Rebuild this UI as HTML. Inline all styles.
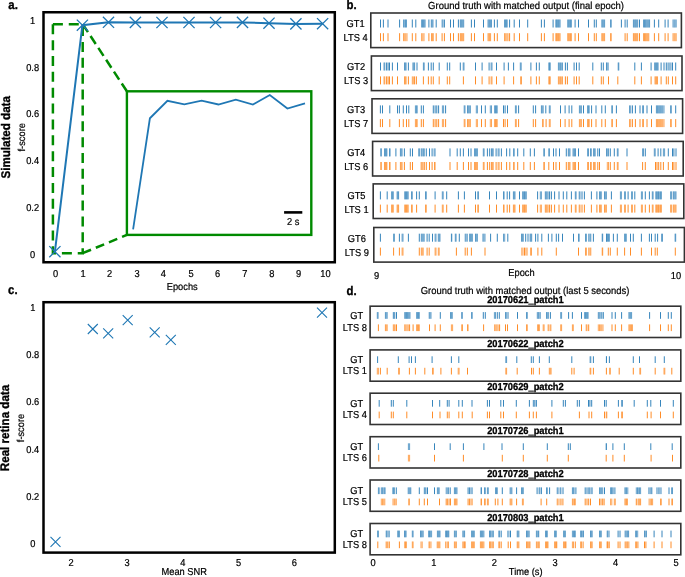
<!DOCTYPE html>
<html><head><meta charset="utf-8"><style>
html,body{margin:0;padding:0;background:#fff;width:685px;height:577px;overflow:hidden}
svg{display:block;filter:blur(0.3px)}
text{font-family:"Liberation Sans",sans-serif;text-rendering:geometricPrecision;stroke:#000;stroke-width:0.2px}
text[font-weight=bold]{stroke-width:0.3px}
</style></head><body>
<svg width="685" height="577" viewBox="0 0 685 577" font-family="Liberation Sans, sans-serif">
<rect width="685" height="577" fill="#fff"/>
<text transform="translate(8.3,8.7) scale(1,1.1)" font-size="11.4" text-anchor="start" font-weight="bold" fill="#000" >a.</text>
<text transform="translate(346.5,8.8) scale(1,1.1)" font-size="11.4" text-anchor="start" font-weight="bold" fill="#000" >b.</text>
<text transform="translate(8.1,294.3) scale(1,1.1)" font-size="11.4" text-anchor="start" font-weight="bold" fill="#000" >c.</text>
<text transform="translate(346.5,294.6) scale(1,1.1)" font-size="11.4" text-anchor="start" font-weight="bold" fill="#000" >d.</text>
<rect x="43.5" y="12.25" width="291.3" height="250" fill="none" stroke="#000" stroke-width="2.5"/>
<text transform="translate(32.6,23.8) scale(1,1.08)" font-size="9.3" text-anchor="middle" fill="#000" >1</text>
<text transform="translate(32.6,70.6) scale(1,1.08)" font-size="9.3" text-anchor="middle" fill="#000" >0.8</text>
<text transform="translate(32.6,117.4) scale(1,1.08)" font-size="9.3" text-anchor="middle" fill="#000" >0.6</text>
<text transform="translate(32.6,164.2) scale(1,1.08)" font-size="9.3" text-anchor="middle" fill="#000" >0.4</text>
<text transform="translate(32.6,211.0) scale(1,1.08)" font-size="9.3" text-anchor="middle" fill="#000" >0.2</text>
<text transform="translate(32.6,257.8) scale(1,1.08)" font-size="9.3" text-anchor="middle" fill="#000" >0</text>
<text transform="translate(55.6,276.6) scale(1,1.08)" font-size="9.3" text-anchor="middle" fill="#000" >0</text>
<text transform="translate(83,276.6) scale(1,1.08)" font-size="9.3" text-anchor="middle" fill="#000" >1</text>
<text transform="translate(109.6,276.6) scale(1,1.08)" font-size="9.3" text-anchor="middle" fill="#000" >2</text>
<text transform="translate(137,276.6) scale(1,1.08)" font-size="9.3" text-anchor="middle" fill="#000" >3</text>
<text transform="translate(163.4,276.6) scale(1,1.08)" font-size="9.3" text-anchor="middle" fill="#000" >4</text>
<text transform="translate(191.1,276.6) scale(1,1.08)" font-size="9.3" text-anchor="middle" fill="#000" >5</text>
<text transform="translate(217.6,276.6) scale(1,1.08)" font-size="9.3" text-anchor="middle" fill="#000" >6</text>
<text transform="translate(244.8,276.6) scale(1,1.08)" font-size="9.3" text-anchor="middle" fill="#000" >7</text>
<text transform="translate(271.9,276.6) scale(1,1.08)" font-size="9.3" text-anchor="middle" fill="#000" >8</text>
<text transform="translate(298.5,276.6) scale(1,1.08)" font-size="9.3" text-anchor="middle" fill="#000" >9</text>
<text transform="translate(325.5,276.6) scale(1,1.08)" font-size="9.3" text-anchor="middle" fill="#000" >10</text>
<text transform="translate(182.2,290.3) scale(1,1.08)" font-size="9.3" text-anchor="middle" fill="#000" >Epochs</text>
<text transform="translate(9.7,137.3) rotate(-90) scale(1,1.08)" font-size="11.6" font-weight="bold" text-anchor="middle" fill="#000">Simulated data</text>
<text transform="translate(25.4,137.3) rotate(-90) scale(1,1.08)" font-size="9.3" text-anchor="middle" fill="#000">f-score</text>
<path d="M52.9 24.2 L82.7 24.2 L82.7 253.2 L52.9 253.2 Z" fill="none" stroke="#008a00" stroke-width="2.5" stroke-dasharray="10 5.86"/>
<path d="M82.7 24.2 L126.9 91.3" fill="none" stroke="#008a00" stroke-width="2.5" stroke-dasharray="9.5 4.7"/>
<path d="M82.7 253.2 L126.9 234.9" fill="none" stroke="#008a00" stroke-width="2.5" stroke-dasharray="9 5.2"/>
<rect x="126.9" y="91.3" width="184.4" height="143.6" fill="none" stroke="#008a00" stroke-width="2.4"/>
<polyline points="133.1,229.3 149.9,118.3 167.4,100.8 184.3,104.3 201.6,100.7 218.4,104.5 235.8,99.6 252.9,104.6 269.8,95.0 287.4,108.5 305.0,103.4" fill="none" stroke="#1f77b4" stroke-width="1.8" stroke-linejoin="miter"/>
<line x1="284.1" y1="212.4" x2="302.3" y2="212.4" stroke="#000" stroke-width="2.6"/>
<text transform="translate(293.2,225.1) scale(1,1.08)" font-size="9.3" text-anchor="middle" fill="#000" >2 s</text>
<polyline points="54.9,251.7 82.4,25.2 108.5,22.3 135.4,22.4 162.0,22.5 189.0,22.5 215.6,22.5 242.5,22.4 269.0,23.2 295.9,23.9 322.6,23.7" fill="none" stroke="#1f77b4" stroke-width="2"/>
<path d="M49.3 246.1 L60.5 257.3 M49.3 257.3 L60.5 246.1" stroke="#1f77b4" stroke-width="1.3" fill="none"/>
<path d="M76.80000000000001 19.6 L88.0 30.799999999999997 M76.80000000000001 30.799999999999997 L88.0 19.6" stroke="#1f77b4" stroke-width="1.3" fill="none"/>
<path d="M102.9 16.700000000000003 L114.1 27.9 M102.9 27.9 L114.1 16.700000000000003" stroke="#1f77b4" stroke-width="1.3" fill="none"/>
<path d="M129.8 16.799999999999997 L141.0 28.0 M129.8 28.0 L141.0 16.799999999999997" stroke="#1f77b4" stroke-width="1.3" fill="none"/>
<path d="M156.4 16.9 L167.6 28.1 M156.4 28.1 L167.6 16.9" stroke="#1f77b4" stroke-width="1.3" fill="none"/>
<path d="M183.4 16.9 L194.6 28.1 M183.4 28.1 L194.6 16.9" stroke="#1f77b4" stroke-width="1.3" fill="none"/>
<path d="M210.0 16.9 L221.2 28.1 M210.0 28.1 L221.2 16.9" stroke="#1f77b4" stroke-width="1.3" fill="none"/>
<path d="M236.9 16.799999999999997 L248.1 28.0 M236.9 28.0 L248.1 16.799999999999997" stroke="#1f77b4" stroke-width="1.3" fill="none"/>
<path d="M263.4 17.6 L274.6 28.799999999999997 M263.4 28.799999999999997 L274.6 17.6" stroke="#1f77b4" stroke-width="1.3" fill="none"/>
<path d="M290.29999999999995 18.299999999999997 L301.5 29.5 M290.29999999999995 29.5 L301.5 18.299999999999997" stroke="#1f77b4" stroke-width="1.3" fill="none"/>
<path d="M317.0 18.1 L328.20000000000005 29.299999999999997 M317.0 29.299999999999997 L328.20000000000005 18.1" stroke="#1f77b4" stroke-width="1.3" fill="none"/>
<rect x="43.5" y="302.2" width="291.3" height="250.4" fill="none" stroke="#000" stroke-width="2.5"/>
<text transform="translate(32.8,310.5) scale(1,1.08)" font-size="9.3" text-anchor="middle" fill="#000" >1</text>
<text transform="translate(32.8,357.88) scale(1,1.08)" font-size="9.3" text-anchor="middle" fill="#000" >0.8</text>
<text transform="translate(32.8,405.26) scale(1,1.08)" font-size="9.3" text-anchor="middle" fill="#000" >0.6</text>
<text transform="translate(32.8,452.64) scale(1,1.08)" font-size="9.3" text-anchor="middle" fill="#000" >0.4</text>
<text transform="translate(32.8,500.02) scale(1,1.08)" font-size="9.3" text-anchor="middle" fill="#000" >0.2</text>
<text transform="translate(32.8,547.4) scale(1,1.08)" font-size="9.3" text-anchor="middle" fill="#000" >0</text>
<text transform="translate(71.2,566.2) scale(1,1.08)" font-size="9.3" text-anchor="middle" fill="#000" >2</text>
<text transform="translate(127.0,566.2) scale(1,1.08)" font-size="9.3" text-anchor="middle" fill="#000" >3</text>
<text transform="translate(182.8,566.2) scale(1,1.08)" font-size="9.3" text-anchor="middle" fill="#000" >4</text>
<text transform="translate(238.6,566.2) scale(1,1.08)" font-size="9.3" text-anchor="middle" fill="#000" >5</text>
<text transform="translate(294.4,566.2) scale(1,1.08)" font-size="9.3" text-anchor="middle" fill="#000" >6</text>
<text transform="translate(184.2,574.6) scale(1,1.08)" font-size="9.3" text-anchor="middle" fill="#000" >Mean SNR</text>
<text transform="translate(8.7,428) rotate(-90) scale(1,1.08)" font-size="11.6" font-weight="bold" text-anchor="middle" fill="#000">Real retina data</text>
<text transform="translate(24.3,428) rotate(-90) scale(1,1.08)" font-size="9.3" text-anchor="middle" fill="#000">f-score</text>
<path d="M50.5 536.9 L60.5 546.9 M50.5 546.9 L60.5 536.9" stroke="#1f77b4" stroke-width="1.1" fill="none"/>
<path d="M87.8 324.0 L97.8 334.0 M87.8 334.0 L97.8 324.0" stroke="#1f77b4" stroke-width="1.1" fill="none"/>
<path d="M103.2 328.4 L113.2 338.4 M103.2 338.4 L113.2 328.4" stroke="#1f77b4" stroke-width="1.1" fill="none"/>
<path d="M122.7 315.2 L132.7 325.2 M122.7 325.2 L132.7 315.2" stroke="#1f77b4" stroke-width="1.1" fill="none"/>
<path d="M149.7 327.3 L159.7 337.3 M149.7 337.3 L159.7 327.3" stroke="#1f77b4" stroke-width="1.1" fill="none"/>
<path d="M165.8 334.9 L175.8 344.9 M165.8 344.9 L175.8 334.9" stroke="#1f77b4" stroke-width="1.1" fill="none"/>
<path d="M317.0 307.7 L327.0 317.7 M317.0 317.7 L327.0 307.7" stroke="#1f77b4" stroke-width="1.1" fill="none"/>
<text transform="translate(526.05,9.4) scale(1,1.08)" font-size="9.5" text-anchor="middle" fill="#000" >Ground truth with matched output (final epoch)</text>
<rect x="370.80" y="13" width="310.60" height="34.6" fill="none" stroke="#333" stroke-width="1.6"/>
<text transform="translate(355.6,27.4) scale(1,1.08)" font-size="9.3" text-anchor="middle" fill="#000" >GT1</text>
<text transform="translate(355.6,41.1) scale(1,1.08)" font-size="9.3" text-anchor="middle" fill="#000" >LTS 4</text>
<rect x="371.40" y="56" width="310.60" height="34.6" fill="none" stroke="#333" stroke-width="1.6"/>
<text transform="translate(356.1,70.4) scale(1,1.08)" font-size="9.3" text-anchor="middle" fill="#000" >GT2</text>
<text transform="translate(356.1,84.3) scale(1,1.08)" font-size="9.3" text-anchor="middle" fill="#000" >LTS 3</text>
<rect x="372.00" y="98.8" width="310.60" height="34.6" fill="none" stroke="#333" stroke-width="1.6"/>
<text transform="translate(356.1,113.3) scale(1,1.08)" font-size="9.3" text-anchor="middle" fill="#000" >GT3</text>
<text transform="translate(356.1,127.0) scale(1,1.08)" font-size="9.3" text-anchor="middle" fill="#000" >LTS 7</text>
<rect x="372.60" y="141.4" width="310.60" height="34.6" fill="none" stroke="#333" stroke-width="1.6"/>
<text transform="translate(356.2,156.3) scale(1,1.08)" font-size="9.3" text-anchor="middle" fill="#000" >GT4</text>
<text transform="translate(356.2,169.9) scale(1,1.08)" font-size="9.3" text-anchor="middle" fill="#000" >LTS 6</text>
<rect x="373.20" y="183.9" width="310.60" height="34.6" fill="none" stroke="#333" stroke-width="1.6"/>
<text transform="translate(356.5,199.3) scale(1,1.08)" font-size="9.3" text-anchor="middle" fill="#000" >GT5</text>
<text transform="translate(356.5,212.5) scale(1,1.08)" font-size="9.3" text-anchor="middle" fill="#000" >LTS 1</text>
<rect x="373.80" y="227.5" width="310.60" height="34.6" fill="none" stroke="#333" stroke-width="1.6"/>
<text transform="translate(356.8,241.6) scale(1,1.08)" font-size="9.3" text-anchor="middle" fill="#000" >GT6</text>
<text transform="translate(356.8,255.5) scale(1,1.08)" font-size="9.3" text-anchor="middle" fill="#000" >LTS 9</text>
<text transform="translate(376.5,278.6) scale(1,1.08)" font-size="9.3" text-anchor="middle" fill="#000" >9</text>
<text transform="translate(675.9,278.6) scale(1,1.08)" font-size="9.3" text-anchor="middle" fill="#000" >10</text>
<text transform="translate(521.5,276.2) scale(1,1.08)" font-size="9.3" text-anchor="middle" fill="#000" >Epoch</text>
<text transform="translate(525.1,293.8) scale(1,1.08)" font-size="9.42" text-anchor="middle" fill="#000" >Ground truth with matched output (last 5 seconds)</text>
<rect x="370.1" y="306.2" width="310.70" height="31.3" fill="none" stroke="#333" stroke-width="1.6"/>
<text transform="translate(525.4,303.3) scale(1,1.08)" font-size="9.3" text-anchor="middle" font-weight="bold" fill="#000" >20170621_patch1</text>
<text transform="translate(356.6,318.6) scale(1,1.08)" font-size="9.3" text-anchor="middle" fill="#000" >GT</text>
<text transform="translate(354.8,330.8) scale(1,1.08)" font-size="9.3" text-anchor="middle" fill="#000" >LTS 8</text>
<rect x="370.1" y="349.9" width="310.70" height="31.3" fill="none" stroke="#333" stroke-width="1.6"/>
<text transform="translate(525.4,347.0) scale(1,1.08)" font-size="9.3" text-anchor="middle" font-weight="bold" fill="#000" >20170622_patch2</text>
<text transform="translate(356.6,362.8) scale(1,1.08)" font-size="9.3" text-anchor="middle" fill="#000" >GT</text>
<text transform="translate(354.8,374.2) scale(1,1.08)" font-size="9.3" text-anchor="middle" fill="#000" >LTS 1</text>
<rect x="370.1" y="393.2" width="310.70" height="31.3" fill="none" stroke="#333" stroke-width="1.6"/>
<text transform="translate(525.4,390.3) scale(1,1.08)" font-size="9.3" text-anchor="middle" font-weight="bold" fill="#000" >20170629_patch2</text>
<text transform="translate(356.6,406.5) scale(1,1.08)" font-size="9.3" text-anchor="middle" fill="#000" >GT</text>
<text transform="translate(354.8,418.0) scale(1,1.08)" font-size="9.3" text-anchor="middle" fill="#000" >LTS 4</text>
<rect x="370.1" y="436.7" width="310.70" height="31.3" fill="none" stroke="#333" stroke-width="1.6"/>
<text transform="translate(525.4,433.8) scale(1,1.08)" font-size="9.3" text-anchor="middle" font-weight="bold" fill="#000" >20170726_patch1</text>
<text transform="translate(356.6,449.8) scale(1,1.08)" font-size="9.3" text-anchor="middle" fill="#000" >GT</text>
<text transform="translate(354.8,461.2) scale(1,1.08)" font-size="9.3" text-anchor="middle" fill="#000" >LTS 6</text>
<rect x="370.1" y="480.0" width="310.70" height="31.3" fill="none" stroke="#333" stroke-width="1.6"/>
<text transform="translate(525.4,477.1) scale(1,1.08)" font-size="9.3" text-anchor="middle" font-weight="bold" fill="#000" >20170728_patch2</text>
<text transform="translate(356.6,493.9) scale(1,1.08)" font-size="9.3" text-anchor="middle" fill="#000" >GT</text>
<text transform="translate(354.8,505.0) scale(1,1.08)" font-size="9.3" text-anchor="middle" fill="#000" >LTS 5</text>
<rect x="370.1" y="523.5" width="310.70" height="31.3" fill="none" stroke="#333" stroke-width="1.6"/>
<text transform="translate(525.4,520.6) scale(1,1.08)" font-size="9.3" text-anchor="middle" font-weight="bold" fill="#000" >20170803_patch1</text>
<text transform="translate(356.6,537.1) scale(1,1.08)" font-size="9.3" text-anchor="middle" fill="#000" >GT</text>
<text transform="translate(354.8,547.9) scale(1,1.08)" font-size="9.3" text-anchor="middle" fill="#000" >LTS 8</text>
<text transform="translate(373.1,566.0) scale(1,1.08)" font-size="9.3" text-anchor="middle" fill="#000" >0</text>
<text transform="translate(433.72,566.0) scale(1,1.08)" font-size="9.3" text-anchor="middle" fill="#000" >1</text>
<text transform="translate(494.34,566.0) scale(1,1.08)" font-size="9.3" text-anchor="middle" fill="#000" >2</text>
<text transform="translate(554.96,566.0) scale(1,1.08)" font-size="9.3" text-anchor="middle" fill="#000" >3</text>
<text transform="translate(615.58,566.0) scale(1,1.08)" font-size="9.3" text-anchor="middle" fill="#000" >4</text>
<text transform="translate(676.2,566.0) scale(1,1.08)" font-size="9.3" text-anchor="middle" fill="#000" >5</text>
<text transform="translate(525.7,574.6) scale(1,1.08)" font-size="9.3" text-anchor="middle" fill="#000" >Time (s)</text>
<path d="M380.5 19.5V27.5M383.4 19.5V27.5M388 19.5V27.5M399.6 19.5V27.5M412.3 19.5V27.5M415.8 19.5V27.5M428.9 19.5V27.5M436.2 19.5V27.5M444.4 19.5V27.5M450.5 19.5V27.5M453.5 19.5V27.5M458.4 19.5V27.5M471.4 19.5V27.5M474.5 19.5V27.5M483.5 19.5V27.5M494.4 19.5V27.5M497.3 19.5V27.5M509.6 19.5V27.5M514.2 19.5V27.5M519.5 19.5V27.5M527.7 19.5V27.5M541.4 19.5V27.5M544.4 19.5V27.5M553.1 19.5V27.5M575.1 19.5V27.5M578.5 19.5V27.5M588.5 19.5V27.5M594.3 19.5V27.5M596.3 19.5V27.5M621.4 19.5V27.5M625.1 19.5V27.5M627.2 19.5V27.5M639.5 19.5V27.5M654.4 19.5V27.5M658.7 19.5V27.5M665.1 19.5V27.5M668.1 19.5V27.5M380.5 62.5V70.5M386.6 62.5V70.5M388.1 62.5V70.5M389.5 62.5V70.5M392.4 62.5V70.5M397.5 62.5V70.5M408.4 62.5V70.5M417 62.5V70.5M428.4 62.5V70.5M431.2 62.5V70.5M433.3 62.5V70.5M439.2 62.5V70.5M447.3 62.5V70.5M449.7 62.5V70.5M460.3 62.5V70.5M475.5 62.5V70.5M482.1 62.5V70.5M489.1 62.5V70.5M496.5 62.5V70.5M504.1 62.5V70.5M508.4 62.5V70.5M513.6 62.5V70.5M530.9 62.5V70.5M536.4 62.5V70.5M539.3 62.5V70.5M565.4 62.5V70.5M567.4 62.5V70.5M574.1 62.5V70.5M576.5 62.5V70.5M579.2 62.5V70.5M592.8 62.5V70.5M601.3 62.5V70.5M603.3 62.5V70.5M634.8 62.5V70.5M641.4 62.5V70.5M651.1 62.5V70.5M661.1 62.5V70.5M664 62.5V70.5M666.3 62.5V70.5M668.1 62.5V70.5M672.5 62.5V70.5M675.7 62.5V70.5M380.4 105.4V113.4M382.5 105.4V113.4M389.8 105.4V113.4M397.5 105.4V113.4M399.4 105.4V113.4M403.3 105.4V113.4M406.5 105.4V113.4M408.8 105.4V113.4M421.3 105.4V113.4M423.4 105.4V113.4M433.3 105.4V113.4M435.1 105.4V113.4M436.8 105.4V113.4M438.6 105.4V113.4M445.6 105.4V113.4M481.5 105.4V113.4M485.3 105.4V113.4M503.5 105.4V113.4M505.1 105.4V113.4M507.5 105.4V113.4M518.6 105.4V113.4M533.3 105.4V113.4M535.6 105.4V113.4M545.8 105.4V113.4M560.5 105.4V113.4M565.1 105.4V113.4M569.1 105.4V113.4M571.8 105.4V113.4M583.5 105.4V113.4M591.6 105.4V113.4M596 105.4V113.4M601.8 105.4V113.4M605.3 105.4V113.4M616.4 105.4V113.4M632.4 105.4V113.4M635.4 105.4V113.4M640 105.4V113.4M647 105.4V113.4M651.5 105.4V113.4M675.7 105.4V113.4M395.9 148.4V156.4M404.4 148.4V156.4M410.3 148.4V156.4M412.5 148.4V156.4M426.3 148.4V156.4M429.5 148.4V156.4M432.1 148.4V156.4M450 148.4V156.4M457.2 148.4V156.4M460.3 148.4V156.4M463.4 148.4V156.4M468.5 148.4V156.4M471 148.4V156.4M487.4 148.4V156.4M489.7 148.4V156.4M496.1 148.4V156.4M501.4 148.4V156.4M506.6 148.4V156.4M509.8 148.4V156.4M517.7 148.4V156.4M523.8 148.4V156.4M530.3 148.4V156.4M534.4 148.4V156.4M553.5 148.4V156.4M556 148.4V156.4M559.5 148.4V156.4M566.3 148.4V156.4M578.5 148.4V156.4M597.8 148.4V156.4M599.5 148.4V156.4M610.3 148.4V156.4M614.3 148.4V156.4M627 148.4V156.4M645.3 148.4V156.4M658.1 148.4V156.4M660.8 148.4V156.4M668.3 148.4V156.4M672.5 148.4V156.4M673.9 148.4V156.4M676 148.4V156.4M380.4 191.4V199.4M387.2 191.4V199.4M416.6 191.4V199.4M419.3 191.4V199.4M435.1 191.4V199.4M446.7 191.4V199.4M458.4 191.4V199.4M464.4 191.4V199.4M475.5 191.4V199.4M489.5 191.4V199.4M496.5 191.4V199.4M507.2 191.4V199.4M509.6 191.4V199.4M519.5 191.4V199.4M537.6 191.4V199.4M549.6 191.4V199.4M551.4 191.4V199.4M554.6 191.4V199.4M559 191.4V199.4M563.3 191.4V199.4M566.8 191.4V199.4M571.4 191.4V199.4M582 191.4V199.4M584.4 191.4V199.4M591.4 191.4V199.4M596.9 191.4V199.4M611.4 191.4V199.4M628.1 191.4V199.4M634.8 191.4V199.4M645.3 191.4V199.4M649.4 191.4V199.4M380.4 233.7V241.7M399.4 233.7V241.7M408.4 233.7V241.7M419.3 233.7V241.7M427.1 233.7V241.7M429.2 233.7V241.7M432.5 233.7V241.7M459.3 233.7V241.7M490.6 233.7V241.7M497.3 233.7V241.7M507.8 233.7V241.7M525.7 233.7V241.7M528 233.7V241.7M535.6 233.7V241.7M537.9 233.7V241.7M541.8 233.7V241.7M548.4 233.7V241.7M551.9 233.7V241.7M556.3 233.7V241.7M558.6 233.7V241.7M562.5 233.7V241.7M573.5 233.7V241.7M593.4 233.7V241.7M613.4 233.7V241.7M617.3 233.7V241.7M630.5 233.7V241.7M633.3 233.7V241.7M641.4 233.7V241.7M649.4 233.7V241.7M651.5 233.7V241.7M655.2 233.7V241.7M657.6 233.7V241.7M396.5 312.1V318.8M440.3 312.1V318.8M483.3 312.1V318.8M485.3 312.1V318.8M497.3 312.1V318.8M499.3 312.1V318.8M508 312.1V318.8M517.5 312.1V318.8M550.4 312.1V318.8M568.6 312.1V318.8M572.4 312.1V318.8M581.5 312.1V318.8M601.8 312.1V318.8M603.3 312.1V318.8M612 312.1V318.8M615.3 312.1V318.8M621.6 312.1V318.8M649.6 312.1V318.8M660.5 312.1V318.8M668.3 312.1V318.8M671.3 312.1V318.8M377.6 356.3V363.0M398.3 356.3V363.0M409.1 356.3V363.0M411.5 356.3V363.0M415.4 356.3V363.0M432.1 356.3V363.0M451.4 356.3V363.0M458.8 356.3V363.0M516.8 356.3V363.0M531.3 356.3V363.0M533.3 356.3V363.0M539.4 356.3V363.0M549.3 356.3V363.0M571.8 356.3V363.0M593.4 356.3V363.0M609.4 356.3V363.0M633.3 356.3V363.0M639.5 356.3V363.0M655.2 356.3V363.0M664.3 356.3V363.0M379.2 400.0V406.7M391.3 400.0V406.7M393.3 400.0V406.7M406.8 400.0V406.7M432.5 400.0V406.7M439.7 400.0V406.7M447.3 400.0V406.7M449.1 400.0V406.7M458.8 400.0V406.7M462.3 400.0V406.7M472 400.0V406.7M487.4 400.0V406.7M489.5 400.0V406.7M500.8 400.0V406.7M503.5 400.0V406.7M516.3 400.0V406.7M529.4 400.0V406.7M536.4 400.0V406.7M551.9 400.0V406.7M563.3 400.0V406.7M565.4 400.0V406.7M577.3 400.0V406.7M579.4 400.0V406.7M588.5 400.0V406.7M589.9 400.0V406.7M591.7 400.0V406.7M604.5 400.0V406.7M606.2 400.0V406.7M618.4 400.0V406.7M634.2 400.0V406.7M647.3 400.0V406.7M650.8 400.0V406.7M660.5 400.0V406.7M673.3 400.0V406.7M378.4 443.3V450.0M434.5 443.3V450.0M450.2 443.3V450.0M463.4 443.3V450.0M483.9 443.3V450.0M502 443.3V450.0M523.3 443.3V450.0M547.3 443.3V450.0M568.3 443.3V450.0M570.3 443.3V450.0M612.9 443.3V450.0M624.3 443.3V450.0M650.8 443.3V450.0M672.2 443.3V450.0M396.3 487.4V494.1M419.3 487.4V494.1M427.5 487.4V494.1M434.5 487.4V494.1M450.2 487.4V494.1M468.1 487.4V494.1M469.6 487.4V494.1M502.3 487.4V494.1M516.6 487.4V494.1M537.1 487.4V494.1M541.4 487.4V494.1M549.6 487.4V494.1M563 487.4V494.1M575.9 487.4V494.1M585.2 487.4V494.1M587 487.4V494.1M604.5 487.4V494.1M614.9 487.4V494.1M657 487.4V494.1M669 487.4V494.1M501.2 530.6V537.3M510.5 530.6V537.3M538.7 530.6V537.3M618.1 530.6V537.3M620 530.6V537.3M654.1 530.6V537.3M662 530.6V537.3M671 530.6V537.3" stroke="#1f77b4" stroke-width="0.9" fill="none"/>
<path d="M380.5 33.2V41.2M383.4 33.2V41.2M388 33.2V41.2M399.6 33.2V41.2M412.3 33.2V41.2M415.8 33.2V41.2M428.9 33.2V41.2M436.2 33.2V41.2M442.1 33.2V41.2M444.4 33.2V41.2M450.5 33.2V41.2M453.5 33.2V41.2M458.4 33.2V41.2M471.4 33.2V41.2M474.5 33.2V41.2M483.5 33.2V41.2M494.4 33.2V41.2M497.3 33.2V41.2M509.6 33.2V41.2M514.2 33.2V41.2M519.5 33.2V41.2M527.7 33.2V41.2M541.4 33.2V41.2M544.4 33.2V41.2M553.1 33.2V41.2M575.1 33.2V41.2M578.5 33.2V41.2M588.5 33.2V41.2M594.3 33.2V41.2M596.3 33.2V41.2M625.1 33.2V41.2M627.2 33.2V41.2M639.5 33.2V41.2M654.4 33.2V41.2M658.7 33.2V41.2M665.1 33.2V41.2M668.1 33.2V41.2M380.5 76.4V84.4M386.6 76.4V84.4M388.1 76.4V84.4M389.5 76.4V84.4M392.4 76.4V84.4M397.5 76.4V84.4M408.4 76.4V84.4M414.6 76.4V84.4M416.4 76.4V84.4M423.4 76.4V84.4M428.4 76.4V84.4M431.2 76.4V84.4M433.3 76.4V84.4M439.2 76.4V84.4M447.3 76.4V84.4M449.7 76.4V84.4M463.4 76.4V84.4M475.5 76.4V84.4M482.1 76.4V84.4M489.1 76.4V84.4M496.5 76.4V84.4M504.1 76.4V84.4M513.6 76.4V84.4M530.9 76.4V84.4M536.4 76.4V84.4M539.3 76.4V84.4M565.4 76.4V84.4M567.4 76.4V84.4M574.1 76.4V84.4M576.5 76.4V84.4M579.2 76.4V84.4M592.8 76.4V84.4M601.3 76.4V84.4M603.3 76.4V84.4M608.5 76.4V84.4M617.8 76.4V84.4M634.8 76.4V84.4M641.4 76.4V84.4M651.1 76.4V84.4M661.1 76.4V84.4M666.3 76.4V84.4M668.3 76.4V84.4M672.5 76.4V84.4M675.7 76.4V84.4M380.4 119.1V127.1M382.5 119.1V127.1M389.8 119.1V127.1M399.4 119.1V127.1M403.3 119.1V127.1M406.5 119.1V127.1M408.8 119.1V127.1M421.3 119.1V127.1M423.4 119.1V127.1M433.3 119.1V127.1M435.1 119.1V127.1M436.8 119.1V127.1M438.6 119.1V127.1M445.6 119.1V127.1M481.5 119.1V127.1M485.3 119.1V127.1M503.5 119.1V127.1M505.1 119.1V127.1M507.5 119.1V127.1M518.6 119.1V127.1M533.3 119.1V127.1M535.6 119.1V127.1M546.1 119.1V127.1M560.5 119.1V127.1M565.1 119.1V127.1M569.1 119.1V127.1M571.8 119.1V127.1M583.5 119.1V127.1M591.6 119.1V127.1M596 119.1V127.1M601.8 119.1V127.1M605.3 119.1V127.1M616.4 119.1V127.1M632.4 119.1V127.1M635.4 119.1V127.1M640 119.1V127.1M647 119.1V127.1M651.5 119.1V127.1M675.7 119.1V127.1M395.9 162.0V170.0M404.4 162.0V170.0M410.3 162.0V170.0M412.5 162.0V170.0M424.3 162.0V170.0M426.3 162.0V170.0M429.5 162.0V170.0M432.1 162.0V170.0M450 162.0V170.0M457.2 162.0V170.0M463.4 162.0V170.0M468.5 162.0V170.0M471 162.0V170.0M487.4 162.0V170.0M489.7 162.0V170.0M496.1 162.0V170.0M501.4 162.0V170.0M506.6 162.0V170.0M509.8 162.0V170.0M517.7 162.0V170.0M523.8 162.0V170.0M530.3 162.0V170.0M534.4 162.0V170.0M548.8 162.0V170.0M553.5 162.0V170.0M556 162.0V170.0M559.5 162.0V170.0M566.3 162.0V170.0M578.5 162.0V170.0M597.8 162.0V170.0M599.5 162.0V170.0M610.3 162.0V170.0M614.3 162.0V170.0M627 162.0V170.0M642.6 162.0V170.0M645.3 162.0V170.0M655.5 162.0V170.0M657 162.0V170.0M658.7 162.0V170.0M660.8 162.0V170.0M663.4 162.0V170.0M668.3 162.0V170.0M672.5 162.0V170.0M673.9 162.0V170.0M676 162.0V170.0M380.4 204.6V212.6M387.2 204.6V212.6M416.6 204.6V212.6M435.1 204.6V212.6M446.7 204.6V212.6M458.4 204.6V212.6M464.4 204.6V212.6M475.5 204.6V212.6M489.5 204.6V212.6M496.5 204.6V212.6M507.2 204.6V212.6M509.6 204.6V212.6M519.5 204.6V212.6M537.6 204.6V212.6M549.6 204.6V212.6M551.4 204.6V212.6M554.6 204.6V212.6M559 204.6V212.6M563.3 204.6V212.6M566.8 204.6V212.6M571.4 204.6V212.6M582 204.6V212.6M584.4 204.6V212.6M591.4 204.6V212.6M596.9 204.6V212.6M611.4 204.6V212.6M628.1 204.6V212.6M634.8 204.6V212.6M645.3 204.6V212.6M649.4 204.6V212.6M380.4 247.6V255.6M393.6 247.6V255.6M399.4 247.6V255.6M419.3 247.6V255.6M427.1 247.6V255.6M429.2 247.6V255.6M456.4 247.6V255.6M465.2 247.6V255.6M467.3 247.6V255.6M471.4 247.6V255.6M485 247.6V255.6M524.5 247.6V255.6M537.9 247.6V255.6M541.8 247.6V255.6M556.3 247.6V255.6M578.5 247.6V255.6M608.3 247.6V255.6M610.3 247.6V255.6M617.3 247.6V255.6M624.6 247.6V255.6M630.5 247.6V255.6M641.4 247.6V255.6M651.5 247.6V255.6M655.2 247.6V255.6M657.3 247.6V255.6M675.3 247.6V255.6M378.4 324.4V331.1M396.5 324.4V331.1M409.6 324.4V331.1M413.1 324.4V331.1M429.5 324.4V331.1M435.1 324.4V331.1M440.3 324.4V331.1M483.6 324.4V331.1M499.6 324.4V331.1M505.5 324.4V331.1M507.5 324.4V331.1M517.5 324.4V331.1M550.8 324.4V331.1M581.5 324.4V331.1M588.7 324.4V331.1M612 324.4V331.1M615.3 324.4V331.1M621.6 324.4V331.1M649.6 324.4V331.1M660.5 324.4V331.1M668.3 324.4V331.1M671.3 324.4V331.1M380.4 367.8V374.5M387.2 367.8V374.5M409.4 367.8V374.5M415.4 367.8V374.5M424.8 367.8V374.5M440.9 367.8V374.5M451.4 367.8V374.5M467.5 367.8V374.5M517.2 367.8V374.5M531.5 367.8V374.5M533.3 367.8V374.5M539.4 367.8V374.5M571.8 367.8V374.5M574.1 367.8V374.5M593.4 367.8V374.5M606.4 367.8V374.5M619.2 367.8V374.5M633.3 367.8V374.5M655.2 367.8V374.5M671.8 367.8V374.5M379.2 411.6V418.3M391.3 411.6V418.3M393.3 411.6V418.3M406.8 411.6V418.3M432.5 411.6V418.3M440 411.6V418.3M447.3 411.6V418.3M449.1 411.6V418.3M458.8 411.6V418.3M462.3 411.6V418.3M472.2 411.6V418.3M487.4 411.6V418.3M489.5 411.6V418.3M500.8 411.6V418.3M503.5 411.6V418.3M516.3 411.6V418.3M529.4 411.6V418.3M533.3 411.6V418.3M536.4 411.6V418.3M551.9 411.6V418.3M579.4 411.6V418.3M589 411.6V418.3M591.7 411.6V418.3M604.5 411.6V418.3M618.4 411.6V418.3M647.3 411.6V418.3M651.1 411.6V418.3M660.5 411.6V418.3M673.3 411.6V418.3M378.8 454.8V461.5M434.5 454.8V461.5M463.4 454.8V461.5M502.3 454.8V461.5M523.3 454.8V461.5M547.3 454.8V461.5M568.3 454.8V461.5M606.2 454.8V461.5M612.9 454.8V461.5M624.3 454.8V461.5M651.1 454.8V461.5M672.5 454.8V461.5M419.3 498.6V505.3M424.3 498.6V505.3M427.5 498.6V505.3M439.5 498.6V505.3M446.2 498.6V505.3M447.7 498.6V505.3M468.1 498.6V505.3M469.6 498.6V505.3M495.3 498.6V505.3M497.9 498.6V505.3M502.3 498.6V505.3M516.6 498.6V505.3M541.1 498.6V505.3M546.7 498.6V505.3M560.1 498.6V505.3M585.2 498.6V505.3M587 498.6V505.3M588.7 498.6V505.3M590.5 498.6V505.3M599.5 498.6V505.3M601 498.6V505.3M602.7 498.6V505.3M604.1 498.6V505.3M636.3 498.6V505.3M669 498.6V505.3M377.8 541.5V548.2M386.2 541.5V548.2M387.8 541.5V548.2M389.3 541.5V548.2M399.4 541.5V548.2M445.8 541.5V548.2M501.2 541.5V548.2M508.2 541.5V548.2M510.5 541.5V548.2M575.3 541.5V548.2M583.1 541.5V548.2M618.1 541.5V548.2M620 541.5V548.2M637.9 541.5V548.2M644.5 541.5V548.2M645.9 541.5V548.2M654.1 541.5V548.2M662 541.5V548.2M671 541.5V548.2" stroke="#ff7f0e" stroke-width="0.9" fill="none"/>
<path d="M403.5 19.5V27.5M404.7 19.5V27.5M405.5 19.5V27.5M406.5 19.5V27.5M421.6 19.5V27.5M422.5 19.5V27.5M423.4 19.5V27.5M424.2 19.5V27.5M425.1 19.5V27.5M431.3 19.5V27.5M432.1 19.5V27.5M433 19.5V27.5M442.1 19.5V27.5M443 19.5V27.5M460.3 19.5V27.5M461.1 19.5V27.5M461.9 19.5V27.5M462.8 19.5V27.5M463.7 19.5V27.5M488 19.5V27.5M488.9 19.5V27.5M489.7 19.5V27.5M490.6 19.5V27.5M491.5 19.5V27.5M504.5 19.5V27.5M505.5 19.5V27.5M506.4 19.5V27.5M507.2 19.5V27.5M555.8 19.5V27.5M556.6 19.5V27.5M557.4 19.5V27.5M558.4 19.5V27.5M559.2 19.5V27.5M560.1 19.5V27.5M567.7 19.5V27.5M568.6 19.5V27.5M569.6 19.5V27.5M570.5 19.5V27.5M571.4 19.5V27.5M601.8 19.5V27.5M602.7 19.5V27.5M603.7 19.5V27.5M604.6 19.5V27.5M610.6 19.5V27.5M611.2 19.5V27.5M633.4 19.5V27.5M634.2 19.5V27.5M635.1 19.5V27.5M635.9 19.5V27.5M636.8 19.5V27.5M637.7 19.5V27.5M643.5 19.5V27.5M644.5 19.5V27.5M645.3 19.5V27.5M646.1 19.5V27.5M647 19.5V27.5M647.9 19.5V27.5M648.8 19.5V27.5M649.6 19.5V27.5M673 19.5V27.5M674.1 19.5V27.5M675.1 19.5V27.5M676.2 19.5V27.5M384 62.5V70.5M384.8 62.5V70.5M404.5 62.5V70.5M405.3 62.5V70.5M406.1 62.5V70.5M412.9 62.5V70.5M413.8 62.5V70.5M414.6 62.5V70.5M423.4 62.5V70.5M424.2 62.5V70.5M463.2 62.5V70.5M464 62.5V70.5M491.1 62.5V70.5M492 62.5V70.5M520.3 62.5V70.5M521.2 62.5V70.5M548.8 62.5V70.5M549.6 62.5V70.5M550.2 62.5V70.5M558.4 62.5V70.5M559.3 62.5V70.5M560.4 62.5V70.5M561.3 62.5V70.5M562.5 62.5V70.5M606.5 62.5V70.5M607.1 62.5V70.5M608.2 62.5V70.5M618.2 62.5V70.5M618.8 62.5V70.5M654.6 62.5V70.5M655.6 62.5V70.5M656.4 62.5V70.5M657.3 62.5V70.5M658.1 62.5V70.5M669.8 62.5V70.5M671 62.5V70.5M415.4 105.4V113.4M416.4 105.4V113.4M417.2 105.4V113.4M442.4 105.4V113.4M443.6 105.4V113.4M464.2 105.4V113.4M465 105.4V113.4M467.5 105.4V113.4M468.3 105.4V113.4M469.3 105.4V113.4M470.4 105.4V113.4M476.3 105.4V113.4M477.4 105.4V113.4M490.3 105.4V113.4M491.5 105.4V113.4M494.6 105.4V113.4M495.5 105.4V113.4M496.4 105.4V113.4M497.2 105.4V113.4M515.4 105.4V113.4M516.3 105.4V113.4M541.4 105.4V113.4M542.2 105.4V113.4M543.2 105.4V113.4M549.3 105.4V113.4M550.2 105.4V113.4M579.4 105.4V113.4M580.3 105.4V113.4M581.4 105.4V113.4M587.6 105.4V113.4M588.4 105.4V113.4M589.2 105.4V113.4M611.8 105.4V113.4M612.4 105.4V113.4M629.5 105.4V113.4M630.7 105.4V113.4M642.6 105.4V113.4M643.5 105.4V113.4M656.4 105.4V113.4M657.3 105.4V113.4M658.1 105.4V113.4M659 105.4V113.4M659.9 105.4V113.4M660.8 105.4V113.4M661.8 105.4V113.4M662.8 105.4V113.4M664 105.4V113.4M670.6 105.4V113.4M671.3 105.4V113.4M380.8 148.4V156.4M381.3 148.4V156.4M384.5 148.4V156.4M385.4 148.4V156.4M386.2 148.4V156.4M386.9 148.4V156.4M389.5 148.4V156.4M390.1 148.4V156.4M400.4 148.4V156.4M401.2 148.4V156.4M402.1 148.4V156.4M418.7 148.4V156.4M419.6 148.4V156.4M421.3 148.4V156.4M422.2 148.4V156.4M423.4 148.4V156.4M424.3 148.4V156.4M434.1 148.4V156.4M435.1 148.4V156.4M474.5 148.4V156.4M475.5 148.4V156.4M476.6 148.4V156.4M477.4 148.4V156.4M483.3 148.4V156.4M484.1 148.4V156.4M491.5 148.4V156.4M492.3 148.4V156.4M493.2 148.4V156.4M498.1 148.4V156.4M499.1 148.4V156.4M513.6 148.4V156.4M514.2 148.4V156.4M543.8 148.4V156.4M544.4 148.4V156.4M548.8 148.4V156.4M549.4 148.4V156.4M568.3 148.4V156.4M569.1 148.4V156.4M570 148.4V156.4M573 148.4V156.4M573.9 148.4V156.4M574.7 148.4V156.4M575.5 148.4V156.4M587.6 148.4V156.4M588.5 148.4V156.4M590.5 148.4V156.4M591.3 148.4V156.4M593.6 148.4V156.4M594.3 148.4V156.4M595.2 148.4V156.4M606.5 148.4V156.4M607.3 148.4V156.4M608.5 148.4V156.4M617.3 148.4V156.4M618.1 148.4V156.4M642.6 148.4V156.4M643.5 148.4V156.4M654.3 148.4V156.4M655.2 148.4V156.4M663.4 148.4V156.4M664.6 148.4V156.4M391.6 191.4V199.4M392.4 191.4V199.4M393.3 191.4V199.4M397.1 191.4V199.4M397.9 191.4V199.4M398.6 191.4V199.4M404.7 191.4V199.4M405.5 191.4V199.4M406.5 191.4V199.4M407.3 191.4V199.4M408.2 191.4V199.4M411.5 191.4V199.4M412.3 191.4V199.4M425.5 191.4V199.4M426.3 191.4V199.4M442.3 191.4V199.4M443.2 191.4V199.4M477.8 191.4V199.4M478.4 191.4V199.4M503.5 191.4V199.4M504.1 191.4V199.4M513.4 191.4V199.4M514.2 191.4V199.4M515 191.4V199.4M522.6 191.4V199.4M523.6 191.4V199.4M524.5 191.4V199.4M525.3 191.4V199.4M526.3 191.4V199.4M540.3 191.4V199.4M541.4 191.4V199.4M545.3 191.4V199.4M546.1 191.4V199.4M547 191.4V199.4M548.1 191.4V199.4M575.3 191.4V199.4M576.1 191.4V199.4M579.2 191.4V199.4M580 191.4V199.4M599.5 191.4V199.4M600.4 191.4V199.4M601.3 191.4V199.4M604.5 191.4V199.4M605.3 191.4V199.4M606.4 191.4V199.4M620.4 191.4V199.4M621.4 191.4V199.4M624.6 191.4V199.4M625.4 191.4V199.4M631.6 191.4V199.4M632.4 191.4V199.4M641.4 191.4V199.4M642.4 191.4V199.4M652.3 191.4V199.4M653.1 191.4V199.4M655.8 191.4V199.4M656.6 191.4V199.4M657.6 191.4V199.4M658.5 191.4V199.4M659.3 191.4V199.4M660.5 191.4V199.4M661.4 191.4V199.4M670.6 191.4V199.4M671.6 191.4V199.4M673.3 191.4V199.4M674.1 191.4V199.4M675.1 191.4V199.4M676 191.4V199.4M393.6 233.7V241.7M394.4 233.7V241.7M402.1 233.7V241.7M403 233.7V241.7M421.3 233.7V241.7M422.2 233.7V241.7M423.2 233.7V241.7M424.2 233.7V241.7M435.1 233.7V241.7M436 233.7V241.7M438.3 233.7V241.7M439.2 233.7V241.7M440 233.7V241.7M451.4 233.7V241.7M451.8 233.7V241.7M455.3 233.7V241.7M456.1 233.7V241.7M465.2 233.7V241.7M466.1 233.7V241.7M467.3 233.7V241.7M469.6 233.7V241.7M470.4 233.7V241.7M471.4 233.7V241.7M472.4 233.7V241.7M475.5 233.7V241.7M476.3 233.7V241.7M477.4 233.7V241.7M482.9 233.7V241.7M483.9 233.7V241.7M485 233.7V241.7M503.5 233.7V241.7M504.7 233.7V241.7M521.5 233.7V241.7M522.4 233.7V241.7M523.3 233.7V241.7M530.1 233.7V241.7M530.9 233.7V241.7M531.7 233.7V241.7M578.5 233.7V241.7M579.2 233.7V241.7M585.5 233.7V241.7M586.4 233.7V241.7M588.7 233.7V241.7M589.9 233.7V241.7M590.8 233.7V241.7M602.2 233.7V241.7M602.7 233.7V241.7M606.5 233.7V241.7M606.8 233.7V241.7M607.6 233.7V241.7M608.5 233.7V241.7M609.4 233.7V241.7M624.6 233.7V241.7M625.4 233.7V241.7M626.3 233.7V241.7M661.6 233.7V241.7M662.5 233.7V241.7M675.1 233.7V241.7M675.7 233.7V241.7M377.3 312.1V318.8M378.1 312.1V318.8M385.4 312.1V318.8M386.2 312.1V318.8M387.2 312.1V318.8M393.3 312.1V318.8M394 312.1V318.8M394.8 312.1V318.8M404.7 312.1V318.8M405.6 312.1V318.8M406.5 312.1V318.8M407.4 312.1V318.8M408.2 312.1V318.8M409.1 312.1V318.8M410 312.1V318.8M416.6 312.1V318.8M417.5 312.1V318.8M418.5 312.1V318.8M419.3 312.1V318.8M429.2 312.1V318.8M430 312.1V318.8M431 312.1V318.8M450.5 312.1V318.8M451.4 312.1V318.8M452.3 312.1V318.8M461.7 312.1V318.8M462.3 312.1V318.8M471.6 312.1V318.8M472.2 312.1V318.8M494.4 312.1V318.8M495.5 312.1V318.8M505.5 312.1V318.8M506.3 312.1V318.8M526.5 312.1V318.8M527.3 312.1V318.8M537.3 312.1V318.8M538.3 312.1V318.8M539.1 312.1V318.8M540.3 312.1V318.8M546.5 312.1V318.8M547.3 312.1V318.8M548.4 312.1V318.8M560.7 312.1V318.8M561.6 312.1V318.8M584.6 312.1V318.8M585.5 312.1V318.8M586.4 312.1V318.8M587.3 312.1V318.8M588.1 312.1V318.8M598.3 312.1V318.8M599.2 312.1V318.8M600.2 312.1V318.8M628.9 312.1V318.8M629.8 312.1V318.8M630.7 312.1V318.8M631.6 312.1V318.8M505.8 356.3V363.0M506.6 356.3V363.0M590.1 356.3V363.0M590.8 356.3V363.0M606.4 356.3V363.0M606.5 356.3V363.0M533.3 400.0V406.7M534.1 400.0V406.7M535 400.0V406.7M621.6 400.0V406.7M622.5 400.0V406.7M408.4 443.3V450.0M409.6 443.3V450.0M606.2 443.3V450.0M606.4 443.3V450.0M378.4 487.4V494.1M379.2 487.4V494.1M381.3 487.4V494.1M382.3 487.4V494.1M383.1 487.4V494.1M384.3 487.4V494.1M385.1 487.4V494.1M392.8 487.4V494.1M393.6 487.4V494.1M394.4 487.4V494.1M408.2 487.4V494.1M409.1 487.4V494.1M410 487.4V494.1M410.8 487.4V494.1M424.3 487.4V494.1M425.1 487.4V494.1M426 487.4V494.1M437.4 487.4V494.1M438.3 487.4V494.1M439.2 487.4V494.1M446.2 487.4V494.1M447.3 487.4V494.1M448.5 487.4V494.1M454.4 487.4V494.1M455.3 487.4V494.1M456.1 487.4V494.1M457 487.4V494.1M471 487.4V494.1M472.2 487.4V494.1M481 487.4V494.1M481.5 487.4V494.1M484.5 487.4V494.1M485.3 487.4V494.1M487.4 487.4V494.1M488.3 487.4V494.1M495.5 487.4V494.1M496.5 487.4V494.1M497.3 487.4V494.1M510.1 487.4V494.1M511 487.4V494.1M511.9 487.4V494.1M521.5 487.4V494.1M522.4 487.4V494.1M523.3 487.4V494.1M539.1 487.4V494.1M539.9 487.4V494.1M546.5 487.4V494.1M547.3 487.4V494.1M557.2 487.4V494.1M558.1 487.4V494.1M560.1 487.4V494.1M560.9 487.4V494.1M572.4 487.4V494.1M573.3 487.4V494.1M574.1 487.4V494.1M588.7 487.4V494.1M589.7 487.4V494.1M591.1 487.4V494.1M592.2 487.4V494.1M599.5 487.4V494.1M600.4 487.4V494.1M601.6 487.4V494.1M602.7 487.4V494.1M610.6 487.4V494.1M611.4 487.4V494.1M612.2 487.4V494.1M613.2 487.4V494.1M624.9 487.4V494.1M625.8 487.4V494.1M626.6 487.4V494.1M627.8 487.4V494.1M636.3 487.4V494.1M637.5 487.4V494.1M638.3 487.4V494.1M639.5 487.4V494.1M640.6 487.4V494.1M648.8 487.4V494.1M650 487.4V494.1M651.1 487.4V494.1M651.9 487.4V494.1M658.7 487.4V494.1M659.9 487.4V494.1M661.1 487.4V494.1M671.6 487.4V494.1M672.5 487.4V494.1M377.6 530.6V537.3M378.4 530.6V537.3M386.2 530.6V537.3M386.9 530.6V537.3M388.1 530.6V537.3M389.3 530.6V537.3M397.7 530.6V537.3M398.6 530.6V537.3M399.4 530.6V537.3M404.5 530.6V537.3M405.3 530.6V537.3M406.1 530.6V537.3M412.3 530.6V537.3M413.1 530.6V537.3M420.5 530.6V537.3M421.3 530.6V537.3M422.2 530.6V537.3M423.2 530.6V537.3M428.6 530.6V537.3M429.5 530.6V537.3M430.4 530.6V537.3M431.6 530.6V537.3M437.4 530.6V537.3M438.3 530.6V537.3M439.2 530.6V537.3M440 530.6V537.3M445.6 530.6V537.3M446.5 530.6V537.3M447.3 530.6V537.3M448.1 530.6V537.3M448.8 530.6V537.3M454.4 530.6V537.3M455.3 530.6V537.3M456.4 530.6V537.3M462.8 530.6V537.3M463.8 530.6V537.3M464.6 530.6V537.3M471.6 530.6V537.3M472.4 530.6V537.3M473.4 530.6V537.3M474.3 530.6V537.3M480.4 530.6V537.3M481.3 530.6V537.3M482.1 530.6V537.3M482.9 530.6V537.3M483.9 530.6V537.3M489.5 530.6V537.3M490.3 530.6V537.3M491.1 530.6V537.3M492.3 530.6V537.3M493.4 530.6V537.3M498.8 530.6V537.3M499.6 530.6V537.3M507.8 530.6V537.3M509 530.6V537.3M517.2 530.6V537.3M518 530.6V537.3M518.9 530.6V537.3M526.5 530.6V537.3M527.3 530.6V537.3M528.2 530.6V537.3M529.2 530.6V537.3M536.4 530.6V537.3M537.3 530.6V537.3M545.5 530.6V537.3M546.5 530.6V537.3M547.3 530.6V537.3M554.6 530.6V537.3M555.4 530.6V537.3M556.3 530.6V537.3M563.6 530.6V537.3M564.4 530.6V537.3M565.4 530.6V537.3M572.4 530.6V537.3M573.5 530.6V537.3M574.5 530.6V537.3M575.3 530.6V537.3M580.6 530.6V537.3M581.5 530.6V537.3M582.7 530.6V537.3M583.5 530.6V537.3M590.5 530.6V537.3M591.3 530.6V537.3M592.2 530.6V537.3M599.5 530.6V537.3M600.4 530.6V537.3M601.3 530.6V537.3M607.2 530.6V537.3M607.9 530.6V537.3M609.1 530.6V537.3M625.1 530.6V537.3M626 530.6V537.3M627 530.6V537.3M627.8 530.6V537.3M628.6 530.6V537.3M635.6 530.6V537.3M636.5 530.6V537.3M637.7 530.6V537.3M644.5 530.6V537.3M645.3 530.6V537.3M646.5 530.6V537.3" stroke="#1f77b4" stroke-width="0.7" fill="none"/>
<path d="M403.5 33.2V41.2M404.7 33.2V41.2M405.8 33.2V41.2M407 33.2V41.2M421.6 33.2V41.2M422.8 33.2V41.2M424 33.2V41.2M431.5 33.2V41.2M432.4 33.2V41.2M433.3 33.2V41.2M460.3 33.2V41.2M461.1 33.2V41.2M461.9 33.2V41.2M462.8 33.2V41.2M463.7 33.2V41.2M488 33.2V41.2M488.9 33.2V41.2M489.7 33.2V41.2M490.6 33.2V41.2M504.5 33.2V41.2M505.7 33.2V41.2M506.9 33.2V41.2M508 33.2V41.2M555.8 33.2V41.2M556.6 33.2V41.2M557.4 33.2V41.2M558.4 33.2V41.2M559.2 33.2V41.2M560.1 33.2V41.2M567.7 33.2V41.2M568.6 33.2V41.2M569.6 33.2V41.2M570.5 33.2V41.2M571.4 33.2V41.2M601.8 33.2V41.2M602.7 33.2V41.2M603.7 33.2V41.2M604.6 33.2V41.2M610.6 33.2V41.2M611.2 33.2V41.2M633.4 33.2V41.2M634.2 33.2V41.2M635.1 33.2V41.2M635.9 33.2V41.2M636.8 33.2V41.2M637.7 33.2V41.2M643.5 33.2V41.2M644.5 33.2V41.2M645.3 33.2V41.2M646.1 33.2V41.2M647 33.2V41.2M647.9 33.2V41.2M648.8 33.2V41.2M673 33.2V41.2M674.1 33.2V41.2M675.1 33.2V41.2M676.2 33.2V41.2M384 76.4V84.4M384.8 76.4V84.4M404.5 76.4V84.4M405.3 76.4V84.4M406.1 76.4V84.4M412.3 76.4V84.4M413.3 76.4V84.4M491.1 76.4V84.4M492 76.4V84.4M520.6 76.4V84.4M521.5 76.4V84.4M548.8 76.4V84.4M549.6 76.4V84.4M550.2 76.4V84.4M558.4 76.4V84.4M559.3 76.4V84.4M560.4 76.4V84.4M561.3 76.4V84.4M562.5 76.4V84.4M655 76.4V84.4M655.8 76.4V84.4M656.6 76.4V84.4M657.5 76.4V84.4M415.4 119.1V127.1M416.4 119.1V127.1M417.2 119.1V127.1M442.4 119.1V127.1M443.6 119.1V127.1M464.2 119.1V127.1M465 119.1V127.1M467.5 119.1V127.1M468.3 119.1V127.1M469.3 119.1V127.1M470.4 119.1V127.1M476.3 119.1V127.1M477.4 119.1V127.1M490.3 119.1V127.1M491.5 119.1V127.1M494.6 119.1V127.1M495.5 119.1V127.1M496.4 119.1V127.1M497.2 119.1V127.1M515.4 119.1V127.1M516.3 119.1V127.1M542.6 119.1V127.1M543.2 119.1V127.1M549.3 119.1V127.1M550.2 119.1V127.1M579.4 119.1V127.1M580.3 119.1V127.1M581.4 119.1V127.1M587.6 119.1V127.1M588.4 119.1V127.1M589.2 119.1V127.1M611.8 119.1V127.1M612.4 119.1V127.1M629.5 119.1V127.1M630.7 119.1V127.1M642.6 119.1V127.1M643.5 119.1V127.1M656.4 119.1V127.1M657.3 119.1V127.1M658.1 119.1V127.1M659 119.1V127.1M659.9 119.1V127.1M660.8 119.1V127.1M661.8 119.1V127.1M662.8 119.1V127.1M664 119.1V127.1M670.6 119.1V127.1M671.3 119.1V127.1M380.8 162.0V170.0M381.3 162.0V170.0M384.5 162.0V170.0M385.4 162.0V170.0M386.2 162.0V170.0M386.9 162.0V170.0M389.5 162.0V170.0M390.1 162.0V170.0M400.4 162.0V170.0M401.2 162.0V170.0M402.1 162.0V170.0M421.1 162.0V170.0M422 162.0V170.0M423 162.0V170.0M434.5 162.0V170.0M435.1 162.0V170.0M474.5 162.0V170.0M475.5 162.0V170.0M476.6 162.0V170.0M477.4 162.0V170.0M483.3 162.0V170.0M484.1 162.0V170.0M491.5 162.0V170.0M492.3 162.0V170.0M493.2 162.0V170.0M498.1 162.0V170.0M499.1 162.0V170.0M513.6 162.0V170.0M514.2 162.0V170.0M543.8 162.0V170.0M544.4 162.0V170.0M568.3 162.0V170.0M569.1 162.0V170.0M570 162.0V170.0M573 162.0V170.0M573.9 162.0V170.0M574.7 162.0V170.0M575.5 162.0V170.0M587.6 162.0V170.0M588.5 162.0V170.0M590.5 162.0V170.0M591.3 162.0V170.0M593.6 162.0V170.0M594.3 162.0V170.0M595.2 162.0V170.0M607.3 162.0V170.0M608.5 162.0V170.0M617.3 162.0V170.0M618.1 162.0V170.0M391.6 204.6V212.6M392.4 204.6V212.6M393.3 204.6V212.6M397.1 204.6V212.6M397.9 204.6V212.6M398.6 204.6V212.6M404.7 204.6V212.6M405.5 204.6V212.6M406.5 204.6V212.6M407.3 204.6V212.6M408.2 204.6V212.6M411.5 204.6V212.6M412.3 204.6V212.6M425.5 204.6V212.6M426.3 204.6V212.6M442.3 204.6V212.6M443.2 204.6V212.6M477.8 204.6V212.6M478.4 204.6V212.6M503.5 204.6V212.6M504.1 204.6V212.6M513.4 204.6V212.6M514.2 204.6V212.6M515 204.6V212.6M522.6 204.6V212.6M523.6 204.6V212.6M524.5 204.6V212.6M525.3 204.6V212.6M526.3 204.6V212.6M540.3 204.6V212.6M541.4 204.6V212.6M545.3 204.6V212.6M546.1 204.6V212.6M547 204.6V212.6M548.1 204.6V212.6M575.3 204.6V212.6M576.1 204.6V212.6M579.2 204.6V212.6M580 204.6V212.6M599.5 204.6V212.6M600.4 204.6V212.6M601.3 204.6V212.6M604.5 204.6V212.6M605.3 204.6V212.6M606.4 204.6V212.6M620.4 204.6V212.6M621.4 204.6V212.6M624.6 204.6V212.6M625.4 204.6V212.6M631.6 204.6V212.6M632.4 204.6V212.6M641.4 204.6V212.6M642.4 204.6V212.6M652.3 204.6V212.6M653.1 204.6V212.6M655.8 204.6V212.6M656.6 204.6V212.6M657.6 204.6V212.6M658.5 204.6V212.6M659.3 204.6V212.6M660.5 204.6V212.6M661.4 204.6V212.6M670.6 204.6V212.6M671.6 204.6V212.6M673.3 204.6V212.6M674.1 204.6V212.6M675.1 204.6V212.6M676 204.6V212.6M402.1 247.6V255.6M403 247.6V255.6M421.3 247.6V255.6M422.2 247.6V255.6M423.2 247.6V255.6M435.1 247.6V255.6M436 247.6V255.6M438.3 247.6V255.6M439.2 247.6V255.6M521.8 247.6V255.6M523 247.6V255.6M525.9 247.6V255.6M527.1 247.6V255.6M530.6 247.6V255.6M531.5 247.6V255.6M585.5 247.6V255.6M586.4 247.6V255.6M588.7 247.6V255.6M589.9 247.6V255.6M590.8 247.6V255.6M602.2 247.6V255.6M602.7 247.6V255.6M385.4 324.4V331.1M386.2 324.4V331.1M387.2 324.4V331.1M393.3 324.4V331.1M394.2 324.4V331.1M395.1 324.4V331.1M404.7 324.4V331.1M405.8 324.4V331.1M407 324.4V331.1M408.2 324.4V331.1M416.6 324.4V331.1M417.5 324.4V331.1M418.5 324.4V331.1M419.3 324.4V331.1M451.4 324.4V331.1M452.6 324.4V331.1M461.7 324.4V331.1M462.5 324.4V331.1M467.5 324.4V331.1M468.1 324.4V331.1M494.6 324.4V331.1M495.8 324.4V331.1M496.9 324.4V331.1M498.1 324.4V331.1M526.5 324.4V331.1M527.3 324.4V331.1M537.6 324.4V331.1M538.5 324.4V331.1M539.4 324.4V331.1M543.2 324.4V331.1M544.1 324.4V331.1M548.1 324.4V331.1M549 324.4V331.1M560.7 324.4V331.1M561.6 324.4V331.1M572.4 324.4V331.1M573.3 324.4V331.1M586.2 324.4V331.1M587 324.4V331.1M598.3 324.4V331.1M599.5 324.4V331.1M600.7 324.4V331.1M601.8 324.4V331.1M603 324.4V331.1M628.9 324.4V331.1M629.8 324.4V331.1M630.7 324.4V331.1M631.6 324.4V331.1M632.4 324.4V331.1M377.3 367.8V374.5M378.4 367.8V374.5M398.6 367.8V374.5M399.4 367.8V374.5M432.5 367.8V374.5M433.3 367.8V374.5M458.2 367.8V374.5M459.1 367.8V374.5M505.8 367.8V374.5M506.6 367.8V374.5M549.3 367.8V374.5M550.2 367.8V374.5M551.1 367.8V374.5M590.1 367.8V374.5M590.8 367.8V374.5M609.7 367.8V374.5M610.3 367.8V374.5M639.8 367.8V374.5M640.6 367.8V374.5M664 367.8V374.5M664.8 367.8V374.5M606.2 411.6V418.3M606.8 411.6V418.3M621.6 411.6V418.3M622.5 411.6V418.3M408.4 454.8V461.5M409.6 454.8V461.5M381.3 498.6V505.3M382.5 498.6V505.3M383.7 498.6V505.3M384.8 498.6V505.3M393 498.6V505.3M394.2 498.6V505.3M395.1 498.6V505.3M396.3 498.6V505.3M408.8 498.6V505.3M409.3 498.6V505.3M449.1 498.6V505.3M450.3 498.6V505.3M450.5 498.6V505.3M454.4 498.6V505.3M455.3 498.6V505.3M456.1 498.6V505.3M457 498.6V505.3M471 498.6V505.3M472.2 498.6V505.3M481 498.6V505.3M481.5 498.6V505.3M484.5 498.6V505.3M485.3 498.6V505.3M487.4 498.6V505.3M488.3 498.6V505.3M510.1 498.6V505.3M511 498.6V505.3M511.9 498.6V505.3M522.4 498.6V505.3M523.3 498.6V505.3M557.2 498.6V505.3M558.1 498.6V505.3M561.9 498.6V505.3M563 498.6V505.3M572.4 498.6V505.3M573.3 498.6V505.3M574.5 498.6V505.3M575.3 498.6V505.3M610.6 498.6V505.3M611.8 498.6V505.3M614.3 498.6V505.3M615.3 498.6V505.3M624.9 498.6V505.3M625.8 498.6V505.3M626.6 498.6V505.3M627.4 498.6V505.3M638 498.6V505.3M638.9 498.6V505.3M639.8 498.6V505.3M640.6 498.6V505.3M649.1 498.6V505.3M650.3 498.6V505.3M651.5 498.6V505.3M652.6 498.6V505.3M660.5 498.6V505.3M661.3 498.6V505.3M671.8 498.6V505.3M672.5 498.6V505.3M404.7 541.5V548.2M405.5 541.5V548.2M406.4 541.5V548.2M412.3 541.5V548.2M413.1 541.5V548.2M421 541.5V548.2M422.2 541.5V548.2M429 541.5V548.2M429.8 541.5V548.2M431 541.5V548.2M437.2 541.5V548.2M438.1 541.5V548.2M439 541.5V548.2M439.9 541.5V548.2M447.3 541.5V548.2M448.5 541.5V548.2M454.4 541.5V548.2M455.3 541.5V548.2M456.4 541.5V548.2M462.8 541.5V548.2M463.8 541.5V548.2M464.6 541.5V548.2M465.2 541.5V548.2M471.6 541.5V548.2M472.4 541.5V548.2M473.4 541.5V548.2M474.3 541.5V548.2M480.4 541.5V548.2M481.3 541.5V548.2M482.1 541.5V548.2M482.9 541.5V548.2M483.9 541.5V548.2M489.5 541.5V548.2M490.3 541.5V548.2M491.1 541.5V548.2M492.3 541.5V548.2M493.4 541.5V548.2M498.8 541.5V548.2M499.6 541.5V548.2M517.2 541.5V548.2M518 541.5V548.2M518.9 541.5V548.2M526.5 541.5V548.2M527.3 541.5V548.2M528.2 541.5V548.2M529.2 541.5V548.2M530 541.5V548.2M536.4 541.5V548.2M537.3 541.5V548.2M538.7 541.5V548.2M539.2 541.5V548.2M545.5 541.5V548.2M546.5 541.5V548.2M547.3 541.5V548.2M548 541.5V548.2M554.6 541.5V548.2M555.4 541.5V548.2M556.3 541.5V548.2M556.8 541.5V548.2M563.6 541.5V548.2M564.4 541.5V548.2M565.4 541.5V548.2M566 541.5V548.2M572.4 541.5V548.2M573.5 541.5V548.2M580.6 541.5V548.2M581.5 541.5V548.2M590.5 541.5V548.2M591.3 541.5V548.2M592.2 541.5V548.2M599.5 541.5V548.2M600.4 541.5V548.2M601.3 541.5V548.2M607.2 541.5V548.2M607.3 541.5V548.2M608.2 541.5V548.2M609.4 541.5V548.2M625.1 541.5V548.2M626 541.5V548.2M627 541.5V548.2M627.8 541.5V548.2M628.9 541.5V548.2M635.6 541.5V548.2M636.5 541.5V548.2" stroke="#ff7f0e" stroke-width="0.7" fill="none"/>
</svg></body></html>
